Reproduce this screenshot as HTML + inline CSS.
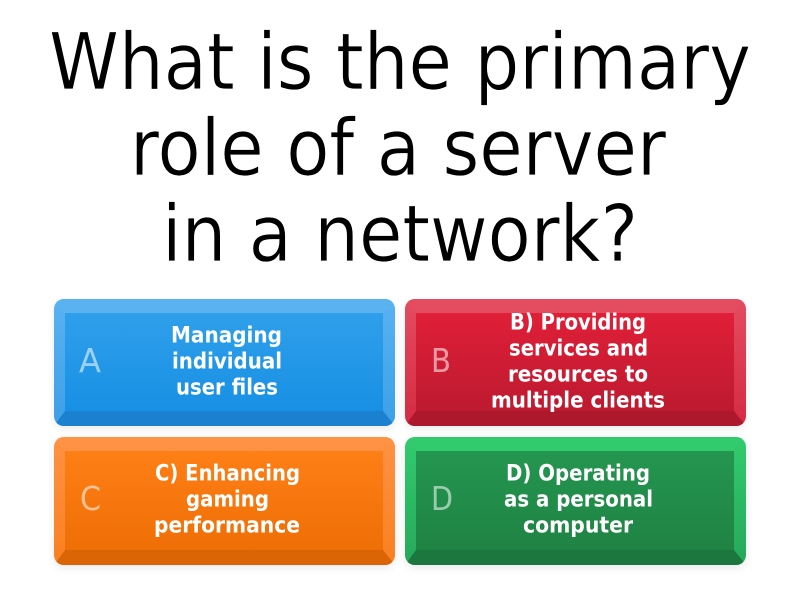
<!DOCTYPE html>
<html><head><meta charset="utf-8"><style>
html,body{margin:0;padding:0;background:#fff}
svg{display:block}
.t{font-family:"DejaVu Sans","Liberation Sans",sans-serif;font-size:78px;fill:#000;stroke:#fff;stroke-width:.7px;text-anchor:start}
.a{font-family:"DejaVu Sans","Liberation Sans",sans-serif;font-size:22px;font-weight:700;fill:#fff;stroke:none}
.l{font-family:"DejaVu Sans","Liberation Sans",sans-serif;font-size:33px;fill:#fff;fill-opacity:.55}
</style></head><body>
<svg width="800" height="600" viewBox="0 0 800 600" xmlns="http://www.w3.org/2000/svg">
<defs>
<linearGradient id="ga" x1="0" y1="0" x2="0" y2="1"><stop offset="0" stop-color="#2f9fea"/><stop offset="1" stop-color="#1890e4"/></linearGradient>
<linearGradient id="gb" x1="0" y1="0" x2="0" y2="1"><stop offset="0" stop-color="#e01f38"/><stop offset="1" stop-color="#bd1a30"/></linearGradient>
<linearGradient id="gc" x1="0" y1="0" x2="0" y2="1"><stop offset="0" stop-color="#ff7f17"/><stop offset="1" stop-color="#ee6f05"/></linearGradient>
<linearGradient id="gd" x1="0" y1="0" x2="0" y2="1"><stop offset="0" stop-color="#249650"/><stop offset="1" stop-color="#1f8344"/></linearGradient>
<linearGradient id="sa" x1="0" y1="0" x2="0" y2="1"><stop offset="0" stop-color="#5ab2f1"/><stop offset="1" stop-color="#3c9fe8"/></linearGradient>
<linearGradient id="sb" x1="0" y1="0" x2="0" y2="1"><stop offset="0" stop-color="#e44c60"/><stop offset="1" stop-color="#d42a42"/></linearGradient>
<linearGradient id="sc" x1="0" y1="0" x2="0" y2="1"><stop offset="0" stop-color="#ff9245"/><stop offset="1" stop-color="#f98020"/></linearGradient>
<linearGradient id="sd" x1="0" y1="0" x2="0" y2="1"><stop offset="0" stop-color="#31cb6e"/><stop offset="1" stop-color="#27a85a"/></linearGradient>
<filter id="s" x="-5%" y="-10%" width="110%" height="125%"><feDropShadow dx="0" dy="3" stdDeviation="4" flood-color="#000" flood-opacity=".08"/></filter>
<clipPath id="c1"><rect x="54" y="299" width="341" height="127" rx="10"/></clipPath>
<clipPath id="c2"><rect x="405" y="299" width="341" height="127" rx="10"/></clipPath>
<clipPath id="c3"><rect x="54" y="437" width="341" height="128" rx="10"/></clipPath>
<clipPath id="c4"><rect x="405" y="437" width="341" height="128" rx="10"/></clipPath>
</defs>

<text class="t" x="49" y="89" textLength="702" lengthAdjust="spacingAndGlyphs">What is the primary</text>
<text class="t" x="130" y="175" textLength="536" lengthAdjust="spacingAndGlyphs">role of a server</text>
<text class="t" x="162" y="261" textLength="476" lengthAdjust="spacingAndGlyphs">in a network?</text>

<!-- A -->
<rect x="54" y="299" width="341" height="127" rx="10" fill="url(#sa)" filter="url(#s)"/>
<g clip-path="url(#c1)">
<polygon points="54,299 395,299 383,313 65,313" fill="#5ab2f1"/>
<polygon points="54,426 395,426 383,411 65,411" fill="#1a80cf"/>
<rect x="65" y="313" width="318" height="98" fill="url(#ga)"/>
</g>
<text class="l" x="79" y="372" textLength="22" lengthAdjust="spacingAndGlyphs">A</text>
<text class="a" x="171" y="342.5" textLength="111" lengthAdjust="spacingAndGlyphs">Managing</text>
<text class="a" x="172" y="368.5" textLength="110" lengthAdjust="spacingAndGlyphs">individual</text>
<text class="a" x="176" y="394.5" textLength="102" lengthAdjust="spacingAndGlyphs">user files</text>

<!-- B -->
<rect x="405" y="299" width="341" height="127" rx="10" fill="url(#sb)" filter="url(#s)"/>
<g clip-path="url(#c2)">
<polygon points="405,299 746,299 734,313 416,313" fill="#e44c60"/>
<polygon points="405,426 746,426 734,411 416,411" fill="#ad182c"/>
<rect x="416" y="313" width="318" height="98" fill="url(#gb)"/>
</g>
<text class="l" x="431" y="372" textLength="20" lengthAdjust="spacingAndGlyphs">B</text>
<text class="a" x="510" y="329.5" textLength="136" lengthAdjust="spacingAndGlyphs">B) Providing</text>
<text class="a" x="509" y="355.5" textLength="139" lengthAdjust="spacingAndGlyphs">services and</text>
<text class="a" x="508" y="381.5" textLength="140" lengthAdjust="spacingAndGlyphs">resources to</text>
<text class="a" x="491" y="407.5" textLength="174" lengthAdjust="spacingAndGlyphs">multiple clients</text>

<!-- C -->
<rect x="54" y="437" width="341" height="128" rx="10" fill="url(#sc)" filter="url(#s)"/>
<g clip-path="url(#c3)">
<polygon points="54,437 395,437 383,451 65,451" fill="#ff9245"/>
<polygon points="54,565 395,565 383,550 65,550" fill="#db6504"/>
<rect x="65" y="451" width="318" height="99" fill="url(#gc)"/>
</g>
<text class="l" x="80" y="510" textLength="21" lengthAdjust="spacingAndGlyphs">C</text>
<text class="a" x="155" y="480.5" textLength="145" lengthAdjust="spacingAndGlyphs">C) Enhancing</text>
<text class="a" x="186" y="506.5" textLength="83" lengthAdjust="spacingAndGlyphs">gaming</text>
<text class="a" x="154" y="532.5" textLength="146" lengthAdjust="spacingAndGlyphs">performance</text>

<!-- D -->
<rect x="405" y="437" width="341" height="128" rx="10" fill="url(#sd)" filter="url(#s)"/>
<g clip-path="url(#c4)">
<polygon points="405,437 746,437 734,451 416,451" fill="#31cb6e"/>
<polygon points="405,565 746,565 734,550 416,550" fill="#1b773e"/>
<rect x="416" y="451" width="318" height="99" fill="url(#gd)"/>
</g>
<text class="l" x="431" y="510" textLength="22" lengthAdjust="spacingAndGlyphs">D</text>
<text class="a" x="506" y="480.5" textLength="144" lengthAdjust="spacingAndGlyphs">D) Operating</text>
<text class="a" x="504" y="506.5" textLength="149" lengthAdjust="spacingAndGlyphs">as a personal</text>
<text class="a" x="523" y="532.5" textLength="110" lengthAdjust="spacingAndGlyphs">computer</text>
</svg>
</body></html>
